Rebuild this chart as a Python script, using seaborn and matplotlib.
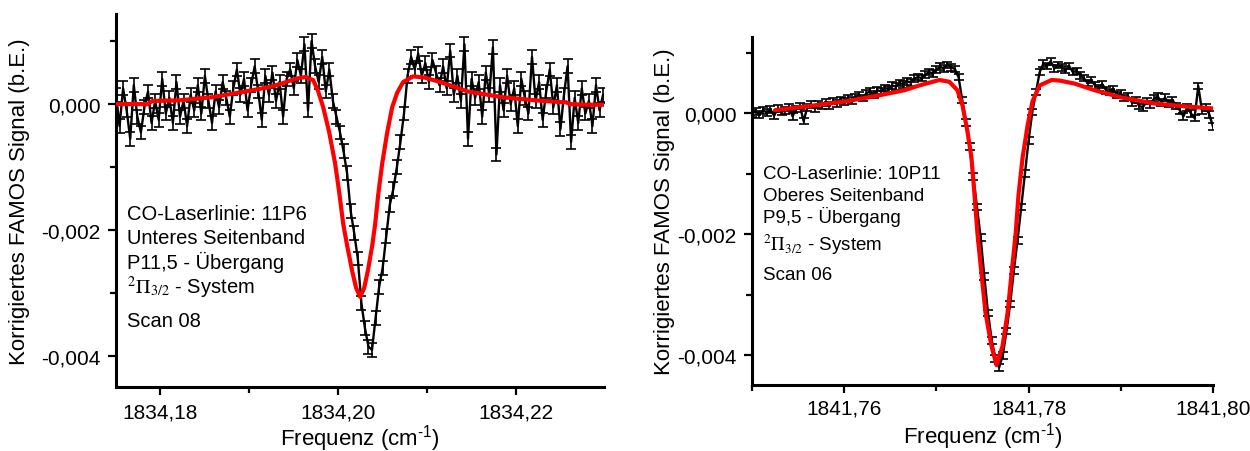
import numpy as np
import matplotlib
matplotlib.use("Agg")
import matplotlib.pyplot as plt
from matplotlib.ticker import MultipleLocator, FuncFormatter
import seaborn as sns

# ---------------- data (signal values in units of 1e-3 b.E.) ----------------
SCALE = 1e-3

# left panel: Scan 08, 11P6
left_x_start, left_x_step = 1834.1750, 0.0004
left_signal = [
    0.15, -0.35, 0.25, -0.10, -0.55, 0.30, -0.20, -0.45, -0.05, 0.20,
    -0.30, 0.05, -0.25, 0.40, -0.15, 0.10, -0.30, 0.35, -0.20, 0.05,
    -0.35, 0.15, -0.10, 0.30,
    -0.15, 0.45, 0.05, -0.30, 0.20, -0.05, 0.35, 0.10, -0.20, 0.25,
    0.55, 0.15, 0.40, -0.10, 0.30, 0.60, 0.20, -0.25, 0.45, 0.15,
    0.50, 0.05, 0.35,
    -0.20, 0.40, 0.55, 0.25, 0.70, 0.45, 0.95, -0.10, 1.00, 0.60,
    0.35, 0.75, 0.20, 0.55,
    0.05, -0.20, -0.45, -0.75, -1.10, -1.70, -2.05, -2.45, -3.15, -3.55,
    -3.85, -3.90, -3.40, -2.90, -2.60, -2.10, -1.60, -1.35, -1.00, -0.60,
    -0.15, 0.45, 0.75,
    0.55, 0.80, 0.45, 0.65, 0.35, 0.70, 0.50, 0.30, 0.60, 0.25,
    0.85, 0.15, 0.45, 0.05, 0.95, -0.55, 0.40,
    0.10, 0.35, -0.20, 0.50, 0.15, 0.90, -0.80, 0.30, -0.10, 0.45,
    0.00, 0.25, -0.35, 0.40, 0.10, -0.15, 0.75, 0.05, 0.35, -0.25,
    0.20, 0.55, -0.05, 0.30, -0.40, 0.15, 0.60, -0.60, 0.10, -0.30,
    0.25, -0.15, 0.05, -0.35, 0.30, -0.10, 0.15,
]
left_err = 0.11

left_fit_x = [
    1834.17506, 1834.17854, 1834.17910, 1834.18213, 1834.18584, 1834.18955,
    1834.19225, 1834.19371, 1834.19517, 1834.19629, 1834.19719, 1834.19775,
    1834.19831, 1834.19899, 1834.19966, 1834.20011, 1834.20056, 1834.20101,
    1834.20157, 1834.20202, 1834.20247, 1834.20292, 1834.20337, 1834.20382,
    1834.20416, 1834.20449, 1834.20494, 1834.20551, 1834.20607, 1834.20663,
    1834.20730, 1834.20843, 1834.20978, 1834.21146, 1834.21461, 1834.21843,
    1834.22213, 1834.22517, 1834.22562, 1834.22607, 1834.22775, 1834.22989,
]
left_fit_y = [
    0.00, 0.00, 0.05, 0.06, 0.11, 0.20,
    0.27, 0.33, 0.40, 0.43, 0.38, 0.20,
    -0.05, -0.45, -0.95, -1.40, -1.90, -2.25,
    -2.65, -2.92, -3.06, -2.92, -2.62, -2.25,
    -1.90, -1.45, -0.95, -0.45, -0.05, 0.18,
    0.35, 0.44, 0.42, 0.35, 0.20, 0.11,
    0.06, 0.03, 0.03, 0.00, -0.01, -0.01,
]

# right panel: Scan 06, 10P11
right_x_start, right_x_step = 1841.7500, 0.0004
right_signal = [
    0.00, 0.03, -0.02, 0.05, 0.01, 0.06, -0.04, 0.08, 0.02, 0.05,
    0.10, -0.05, 0.07, 0.12, -0.13,
    0.10, 0.14, 0.08, 0.15, 0.12, 0.18, 0.13, 0.20, 0.16, 0.22, 0.19, 0.24,
    0.21, 0.27, 0.30, 0.25, 0.33, 0.36, 0.31, 0.38, 0.36, 0.42, 0.40, 0.46,
    0.44, 0.50, 0.48,
    0.53, 0.51, 0.57, 0.60, 0.58, 0.64, 0.68, 0.66, 0.72, 0.77, 0.74, 0.80,
    0.76, 0.73,
    0.60, 0.22, -0.15, -0.55, -1.05, -1.55, -2.05, -2.70, -3.30, -3.75,
    -4.05, -4.20, -4.00, -3.60, -3.15, -2.60, -2.10, -1.55, -1.00, -0.45,
    0.02, 0.35, 0.68,
    0.82, 0.78, 0.86, 0.74, 0.80, 0.76, 0.72, 0.78, 0.68, 0.70,
    0.62, 0.58, 0.50, 0.55, 0.46, 0.42, 0.48, 0.38, 0.35, 0.40, 0.30, 0.33,
    0.25, 0.28, 0.18, 0.22, 0.12, 0.10, 0.20, 0.15, 0.24, 0.28, 0.18, 0.26,
    0.16, 0.22, 0.12,
    0.05, -0.05, 0.10, 0.00, -0.08, 0.45, 0.05, 0.10, -0.02, -0.22,
]
right_err = 0.055

right_fit_x = [
    1841.75250, 1841.75674, 1841.76033, 1841.76391, 1841.76652, 1841.76815,
    1841.77033, 1841.77141, 1841.77228, 1841.77283, 1841.77337, 1841.77380,
    1841.77413, 1841.77446, 1841.77489, 1841.77533, 1841.77598, 1841.77652,
    1841.77717, 1841.77772, 1841.77815, 1841.77859, 1841.77891, 1841.77935,
    1841.77989, 1841.78043, 1841.78120, 1841.78250, 1841.78337, 1841.78500,
    1841.78717, 1841.79011, 1841.79370, 1841.79728, 1841.80000,
]
right_fit_y = [
    0.05, 0.13, 0.20, 0.30, 0.38, 0.46,
    0.55, 0.52, 0.38, 0.13, -0.30, -0.73,
    -1.34, -2.00, -2.65, -3.30, -3.85, -4.16,
    -3.85, -3.30, -2.65, -2.00, -1.34, -0.73,
    -0.20, 0.20, 0.46, 0.55, 0.54, 0.49,
    0.38, 0.26, 0.16, 0.11, 0.08,
]

left_text = ["CO-Laserlinie: 11P6", "Unteres Seitenband", "P11,5 - Übergang",
             r"${}^{2}\Pi_{3/2}$ - System", "Scan 08"]
right_text = ["CO-Laserlinie: 10P11", "Oberes Seitenband", "P9,5 - Übergang",
              r"${}^{2}\Pi_{3/2}$ - System", "Scan 06"]

ylabel = "Korrigiertes FAMOS Signal (b.E.)"
xlabel = "Frequenz (cm$^{\u20101}$)"

# ---------------- style ----------------
sns.set_theme(style="ticks")
plt.rcParams["font.family"] = ["Liberation Sans", "DejaVu Sans"]
plt.rcParams["mathtext.fontset"] = "custom"
plt.rcParams["mathtext.rm"] = "Liberation Sans"
plt.rcParams["mathtext.it"] = "Liberation Sans:italic"
plt.rcParams["mathtext.bf"] = "Liberation Sans:bold"

fig = plt.figure(figsize=(12.5, 4.52), dpi=100)
ax_l = fig.add_axes([0.0928, 0.1416, 0.3904, 0.8252])
ax_r = fig.add_axes([0.6016, 0.1460, 0.3688, 0.7699])


def yfmt(v, _):
    s = f"{v:.3f}".replace(".", ",")
    return "0,000" if s == "-0,000" else s


def xfmt(v, _):
    return f"{v:.2f}".replace(".", ",")


def draw(ax, x0, dx, sig, err, fx, fy, xlim, ylim, texts, tx, tys, tfs,
         ylab_x, tick_fs, xpad):
    n = len(sig)
    x = x0 + dx * np.arange(n)
    y = np.array(sig) * SCALE
    ax.errorbar(x, y, yerr=err * SCALE, fmt="none", ecolor="black",
                elinewidth=1.2, capsize=3.4, capthick=1.2, zorder=2)
    sns.lineplot(x=x, y=y, color="black", lw=1.7, ax=ax, zorder=3)
    sns.lineplot(x=fx, y=np.array(fy) * SCALE, color="#ff0000", lw=3.0,
                 ax=ax, zorder=4)
    ax.set_xlim(*xlim)
    ax.set_ylim(*ylim)
    ax.xaxis.set_major_locator(MultipleLocator(0.02))
    ax.xaxis.set_minor_locator(MultipleLocator(0.01))
    ax.yaxis.set_major_locator(MultipleLocator(0.002))
    ax.yaxis.set_minor_locator(MultipleLocator(0.001))
    ax.xaxis.set_major_formatter(FuncFormatter(xfmt))
    ax.yaxis.set_major_formatter(FuncFormatter(yfmt))
    ax.tick_params(which="major", direction="out", length=6, width=1.6,
                   labelsize=tick_fs, pad=5, color="black", labelcolor="black")
    ax.tick_params(axis="x", which="major", pad=xpad)
    ax.tick_params(which="minor", direction="out", length=4, width=1.6,
                   color="black")
    for s in ("top", "right"):
        ax.spines[s].set_visible(False)
    for s in ("left", "bottom"):
        ax.spines[s].set_linewidth(2.2)
        ax.spines[s].set_color("black")
    ax.set_ylabel(ylabel, fontsize=16, color="black")
    ax.set_xlabel(xlabel, fontsize=16, color="black")
    ax.yaxis.set_label_coords(ylab_x, 0.5)
    for i, (t, ty) in enumerate(zip(texts, tys)):
        kw = {}
        if i == 3:
            kw["math_fontfamily"] = "stix"
        ax.text(tx, ty, t, transform=ax.transAxes, fontsize=tfs,
                va="baseline", ha="left", color="black", **kw)


draw(ax_l, left_x_start, left_x_step, left_signal, left_err,
     left_fit_x, left_fit_y, (1834.175, 1834.2299), (-0.00449, 0.00143),
     left_text, 0.0225, [0.450, 0.386, 0.319, 0.252, 0.164], 14.5, -0.176, 15,
     5)

draw(ax_r, right_x_start, right_x_step, right_signal, right_err,
     right_fit_x, right_fit_y, (1841.75, 1841.80), (-0.00449, 0.00126),
     right_text, 0.024, [0.594, 0.531, 0.468, 0.388, 0.305], 13.5, -0.167, 15,
     4)

ax_l.xaxis.set_label_coords(0.5, -0.094)
ax_r.xaxis.set_label_coords(0.5, -0.100)

fig.savefig("out.png", dpi=100, facecolor="white")
